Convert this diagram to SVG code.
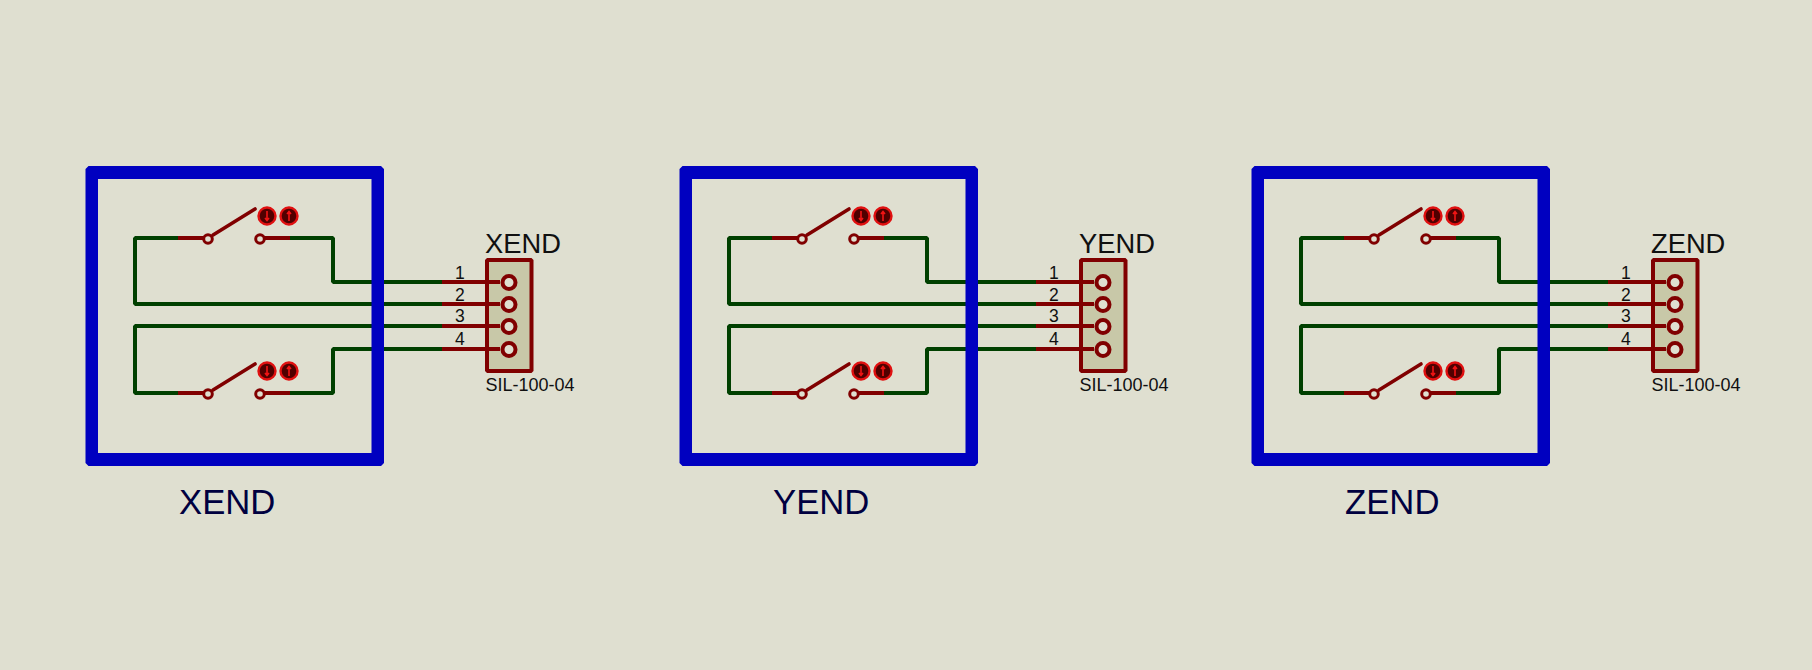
<svg xmlns="http://www.w3.org/2000/svg" xmlns:xlink="http://www.w3.org/1999/xlink" width="1812" height="670" viewBox="0 0 1812 670">
<style>
.bg{fill:#dfdfd0}
.frame{fill:#0000c0;fill-rule:evenodd}
.wire{fill:none;stroke:#004000;stroke-width:4;stroke-linejoin:bevel}
.red{fill:none;stroke:#800000;stroke-width:4}
.lever{fill:none;stroke:#800000;stroke-width:3.6;stroke-linecap:round}
.pin{fill:#dfdfd0;stroke:#800000;stroke-width:3}
.pad{fill:#dfdfd0;stroke:#800000;stroke-width:4}
.pkg{fill:#c8c8a8;stroke:#800000;stroke-width:4;stroke-linejoin:bevel}
.ic{fill:#500000;stroke:#e01010;stroke-width:2.4}
.ar{fill:none;stroke:#f01414;stroke-width:1.6}
text{font-family:"Liberation Sans",Arial,sans-serif}
.t1{font-size:17.500px;fill:#101010}
.t2{font-size:18px;fill:#101010}
.t3{font-size:27.300px;fill:#101010}
.t4{font-size:34.700px;fill:#000040}
</style>
<defs>
<path id="fr" class="frame" d="M88.500 166H381L384 169V463L381 466H88.500L85.500 463V169ZM98 179V453H371.500V179Z"/>
<g id="sw">
<path class="red" d="M178 0H204M264 0H290"/><path class="lever" d="M213 -3L255 -29"/>
<circle class="pin" cx="208" cy="1" r="4.300"/><circle class="pin" cx="260" cy="1" r="4.300"/>
<circle class="ic" cx="267" cy="-22" r="8.500"/><path class="ar" d="M267 -27V-18M265 -20L267 -17.500L269 -20"/>
<circle class="ic" cx="289" cy="-22" r="8.500"/><path class="ar" d="M289 -17V-26M287 -24L289 -26.500L291 -24"/>
</g>
<path id="wr" class="wire" d="M178 238H135V304H442M290 238H333V282H442M442 326H135V393H178M290 393H333V349H442"/>
<g id="pk">
<rect class="pkg" x="487" y="260" width="44.500" height="111"/>
<path class="red" d="M442 282H500M442 304H500M442 326H500M442 349H500"/>
<circle class="pad" cx="509" cy="282.500" r="6.500"/><circle class="pad" cx="509" cy="304.500" r="6.500"/><circle class="pad" cx="509" cy="326.500" r="6.500"/><circle class="pad" cx="509" cy="349.500" r="6.500"/>
<text class="t1" x="455" y="279">1</text><text class="t1" x="455" y="301">2</text><text class="t1" x="455" y="322">3</text><text class="t1" x="455" y="345">4</text>
<text class="t2" x="485.500" y="391">SIL-100-04</text>
</g>
</defs>
<rect class="bg" width="1812" height="670"/>
<g id="connectors">
<use href="#wr"/><use href="#wr" x="594"/><use href="#wr" x="1166"/>
</g>
<g id="sheet-xend"><use href="#fr"/><text class="t4" x="179" y="514">XEND</text></g>
<g id="sheet-yend" transform="translate(594 0)"><use href="#fr"/><text class="t4" x="179" y="514">YEND</text></g>
<g id="sheet-zend" transform="translate(1166 0)"><use href="#fr"/><text class="t4" x="179" y="514">ZEND</text></g>
<g id="switches-xend"><use href="#sw" y="238"/><use href="#sw" y="393"/></g>
<g id="switches-yend" transform="translate(594 0)"><use href="#sw" y="238"/><use href="#sw" y="393"/></g>
<g id="switches-zend" transform="translate(1166 0)"><use href="#sw" y="238"/><use href="#sw" y="393"/></g>
<g id="conn-xend"><use href="#pk"/><text class="t3" x="485" y="253">XEND</text></g>
<g id="conn-yend" transform="translate(594 0)"><use href="#pk"/><text class="t3" x="485" y="253">YEND</text></g>
<g id="conn-zend" transform="translate(1166 0)"><use href="#pk"/><text class="t3" x="485" y="253">ZEND</text></g>
</svg>
